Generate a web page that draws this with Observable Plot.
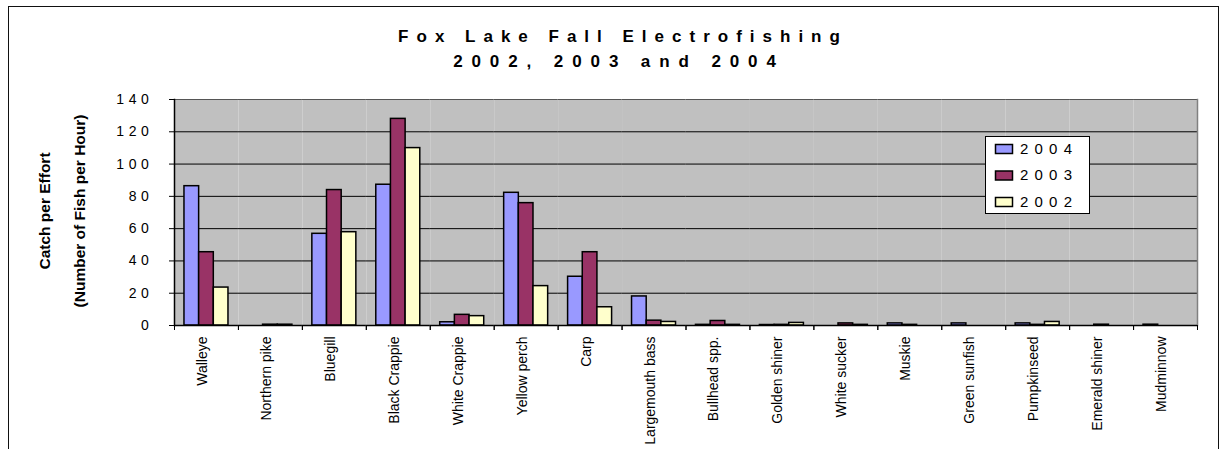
<!DOCTYPE html>
<html><head><meta charset="utf-8">
<script src="https://cdn.jsdelivr.net/npm/d3@7"></script>
<script src="https://cdn.jsdelivr.net/npm/@observablehq/plot@0.6"></script>
<style>
body{margin:0;background:#fff;font-family:"Liberation Sans",Arial,sans-serif;}
#wrap{position:relative;width:1227px;height:449px;overflow:hidden;}
#frame{position:absolute;left:8px;top:6px;width:1211px;height:470px;border:1px solid #111;box-sizing:border-box;}
#chart{position:absolute;left:0;top:0;}
#overlay{position:absolute;left:0;top:0;}
</style></head><body>
<div id="wrap"><div id="frame"></div><div id="chart"></div><svg id="overlay" width="1227" height="449"></svg></div>
<script>
const titleLines = ["Fox Lake Fall Electrofishing", "2002, 2003 and 2004"];
const yTitleLines = ["Catch per Effort", "(Number of Fish per Hour)"];
const species = ["Walleye","Northern pike","Bluegill","Black Crappie","White Crappie","Yellow perch","Carp","Largemouth bass","Bullhead spp.","Golden shiner","White sucker","Muskie","Green sunfish","Pumpkinseed","Emerald shiner","Mudminnow"];
const years = ["2004","2003","2002"];
const colors = ["#9999FF","#993366","#FFFFCC"];
const v2004 = [86.3, 0, 56.8, 87.2, 2.0, 82.2, 30.2, 18.0, 0.4, 0.3, 0, 1.3, 1.3, 1.3, 0, 0.5];
const v2003 = [45.4, 0.5, 83.9, 128.0, 6.6, 75.8, 45.4, 3.0, 2.8, 0.4, 1.3, 0.4, 0, 0.4, 0.5, 0];
const v2002 = [23.5, 0.5, 57.8, 109.9, 5.8, 24.4, 11.3, 2.2, 0.4, 1.6, 0.4, 0, 0, 2.2, 0, 0];
const yTicks = [0, 20, 40, 60, 80, 100, 120, 140];

const series = [v2004, v2003, v2002];
const data = [];
species.forEach((s, i) => series.forEach((arr, j) => data.push({species: s, year: years[j], value: arr[i]})));

const W = 1227, H = 449, mL = 174, mR = 30, mT = 99, mB = 124;
const step = (W - mL - mR) / species.length;
const font = '"Liberation Sans", Arial, sans-serif';

const plot = Plot.plot({
  width: W, height: H,
  marginLeft: mL, marginRight: mR, marginTop: mT, marginBottom: mB,
  style: {fontFamily: font, background: "transparent", color: "#000"},
  fx: {domain: species, padding: 0, round: false},
  x: {domain: years, paddingInner: 0, paddingOuter: 0.68, round: false, axis: null},
  y: {domain: [0, 140]},
  color: {domain: years, range: colors},
  marks: [
    Plot.frame({fill: "#C0C0C0", stroke: "none"}),
    Plot.ruleY(yTicks.filter(d => d > 0 && d < 140), {stroke: "#000", strokeWidth: 1}),
    Plot.ruleY([140], {stroke: "#555", strokeWidth: 1}),
    Plot.frame({anchor: "right", facetAnchor: "right", stroke: "#808080", strokeWidth: 1.5}),
    Plot.barY(data.filter(d => d.value > 0), {fx: "species", x: "year", y: "value", fill: "year", stroke: "#000", strokeWidth: 1.5}),
    Plot.ruleY([0], {stroke: "#000", strokeWidth: 1.5}),
    Plot.frame({anchor: "left", facetAnchor: "left", stroke: "#000", strokeWidth: 1.5}),
    Plot.axisY({ticks: yTicks, tickSize: 5, tickPadding: 16, fontSize: 14, label: null}),
    Plot.axisFx({anchor: "bottom", tickSize: 5, tickFormat: () => "", label: null, dx: -step / 2}),
    Plot.axisFx([species[species.length - 1]], {anchor: "bottom", tickSize: 5, tickFormat: () => "", label: null, dx: step / 2}),
    Plot.axisFx({anchor: "bottom", tickSize: 0, tickPadding: 11, tickRotate: -90, fontSize: 14, dx: -4, label: null})
  ]
});
document.getElementById("chart").appendChild(plot);
plot.querySelectorAll('g[aria-label="y-axis tick label"] text').forEach(t => t.style.letterSpacing = "4.6px");

// overlay texts: title, y-axis title, legend
const ov = d3.select("#overlay").style("font-family", font);
ov.append("text").attr("x", 623).attr("y", 42).attr("text-anchor", "middle")
  .attr("font-weight", "bold").attr("font-size", 17).attr("letter-spacing", 8).text(titleLines[0]);
ov.append("text").attr("x", 619).attr("y", 67).attr("text-anchor", "middle")
  .attr("font-weight", "bold").attr("font-size", 17).attr("letter-spacing", 8.9).text(titleLines[1]);
ov.append("text").attr("transform", "translate(50,211) rotate(-90)").attr("text-anchor", "middle")
  .attr("font-weight", "bold").attr("font-size", 15.5).text(yTitleLines[0]);
ov.append("text").attr("transform", "translate(85,211) rotate(-90)").attr("text-anchor", "middle")
  .attr("font-weight", "bold").attr("font-size", 15.5).text(yTitleLines[1]);

const lg = ov.append("g");
lg.append("rect").attr("x", 985.5).attr("y", 136.5).attr("width", 104).attr("height", 77)
  .attr("fill", "#fff").attr("stroke", "#000").attr("stroke-width", 1);
years.forEach((y, i) => {
  const cy = 149 + i * 26.5;
  lg.append("rect").attr("x", 995.5).attr("y", cy - 4.5).attr("width", 17).attr("height", 9)
    .attr("fill", colors[i]).attr("stroke", "#000").attr("stroke-width", 1.5);
  lg.append("text").attr("x", 1020).attr("y", cy + 4.5).attr("font-size", 15)
    .attr("letter-spacing", 6.2).text(y);
});
</script>
</body></html>
